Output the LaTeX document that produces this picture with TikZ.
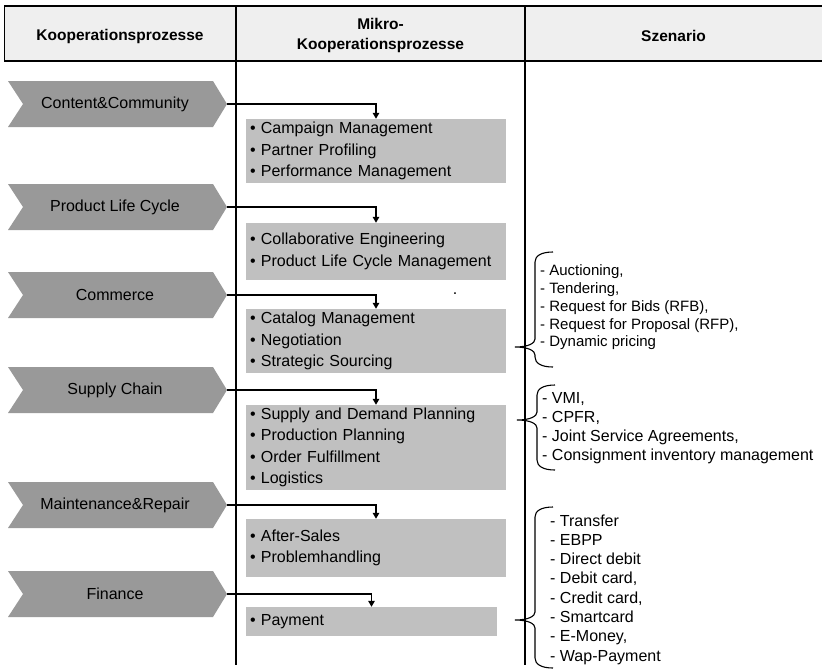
\documentclass[tikz,border=0pt]{standalone}
\usepackage{fontspec}
\setmainfont{Liberation Sans}
\usetikzlibrary{arrows.meta}

\definecolor{headfill}{HTML}{EFEFEF}
\definecolor{chevgray}{HTML}{999999}
\definecolor{boxgray}{HTML}{C0C0C0}

% chevron: #1 name, #2 centre y, #3 label
\newcommand\procchevron[3]{%
  \fill[chevgray] (8,#2-23) -- (213,#2-23) -- (227,#2) -- (213,#2+23)
        -- (8,#2+23) -- (23,#2) -- cycle;
  \node[chevtext] (#1) at (115,#2) {#3};
  \coordinate (#1tip) at (227,#2);
}
% curly brace: #1 top y, #2 tip y, #3 bottom y, #4 spine x
\newcommand\scenbrace[4]{%
  \draw[bracestyle] (#4+18,#1) .. controls (#4+6,#1) and (#4,#1+4) .. (#4,#1+10)
     -- (#4,#2-8) .. controls (#4,#2-4) and (#4-6,#2) .. (#4-20,#2)
     .. controls (#4-6,#2) and (#4,#2+4) .. (#4,#2+8)
     -- (#4,#3-10) .. controls (#4,#3-4) and (#4+6,#3) .. (#4+18,#3);
}

\begin{document}
\begin{tikzpicture}[x=1pt,y=-1pt,
  chevtext/.style={font=\fontsize{16}{19}\selectfont, inner sep=0pt},
  headtext/.style={font=\fontsize{15.5}{20}\selectfont\bfseries, align=center, inner sep=0pt},
  mbox/.style={fill=boxgray, anchor=center, align=left, inner xsep=4pt, inner ysep=0pt,
               text width=252pt, font=\fontsize{16}{21.5}\selectfont},
  scentext/.style={anchor=west, align=left, inner sep=0pt},
  flow/.style={line width=1.8pt, -{Triangle[width=6.5pt,length=6pt]}},
  divider/.style={line width=1.1pt},
  bracestyle/.style={line width=1.1pt}]

\useasboundingbox (0,0) rectangle (822,670);

% table head
\fill[headfill] (4,6) rectangle (822,61);
\draw[line width=1pt] (4,6) -- (4,61);
\draw[line width=1.6pt] (4,6) -- (822,6);
\draw[line width=1.6pt] (4,61) -- (822,61);
\node[headtext] (h1) at (120,36) {Kooperationsprozesse};
\node[headtext] (h2) at (380.5,35.5) {Mikro-\\Kooperationsprozesse};
\node[headtext] (h3) at (673.5,36) {Szenario};

% column dividers
\draw[divider] (236,6) -- (236,665);
\draw[divider] (525,6) -- (525,665);

% cooperation processes
\procchevron{c1}{104}{Content\&Community}
\procchevron{c2}{207}{Product Life Cycle}
\procchevron{c3}{295}{Commerce}
\procchevron{c4}{390}{Supply Chain}
\procchevron{c5}{505}{Maintenance\&Repair}
\procchevron{c6}{594}{Finance}

% micro cooperation processes
\node[mbox, minimum height=64pt] (b1) at (376,151)
  {\textbullet{} Campaign Management\\\textbullet{} Partner Profiling\\\textbullet{} Performance Management};
\node[mbox, minimum height=57pt] (b2) at (376,251.5)
  {\textbullet{} Collaborative Engineering\\\textbullet{} Product Life Cycle Management};
\node[mbox, minimum height=64pt] (b3) at (376,341)
  {\textbullet{} Catalog Management\\\textbullet{} Negotiation\\\textbullet{} Strategic Sourcing};
\node[mbox, minimum height=85pt] (b4) at (376,447.5)
  {\textbullet{} Supply and Demand Planning\\\textbullet{} Production Planning\\\textbullet{} Order Fulfillment\\\textbullet{} Logistics};
\node[mbox, minimum height=58pt] (b5) at (376,548)
  {\textbullet{} After-Sales\\\textbullet{} Problemhandling};
\node[mbox, minimum height=29pt, text width=243pt] (b6) at (371.5,621.5)
  {\textbullet{} Payment};

\node[font=\fontsize{16}{19}\selectfont, anchor=base, inner sep=0pt] (dot) at (455,294.5) {.};

% links
\draw[flow] (c1tip) -| (b1.north);
\draw[flow] (c2tip) -| (b2.north);
\draw[flow] (c3tip) -| (b3.north);
\draw[flow] (c4tip) -| (b4.north);
\draw[flow] (c5tip) -| (b5.north);
\draw[flow] (c6tip) -| (b6.north);

% scenarios
\scenbrace{252}{347}{367}{535}
\node[scentext, font=\fontsize{15}{17.8}\selectfont] (s1) at (540,307.5)
  {- Auctioning,\\- Tendering,\\- Request for Bids (RFB),\\- Request for Proposal (RFP),\\- Dynamic pricing};

\scenbrace{385}{420}{470}{537}
\node[scentext, font=\fontsize{16}{19}\selectfont] (s2) at (542,428.5)
  {- VMI,\\- CPFR,\\- Joint Service Agreements,\\- Consignment inventory management};

\scenbrace{507}{620}{668}{535}
\node[scentext, font=\fontsize{16}{19.3}\selectfont] (s3) at (550,589.5)
  {- Transfer\\- EBPP\\- Direct debit\\- Debit card,\\- Credit card,\\- Smartcard\\- E-Money,\\- Wap-Payment};

\end{tikzpicture}
\end{document}
